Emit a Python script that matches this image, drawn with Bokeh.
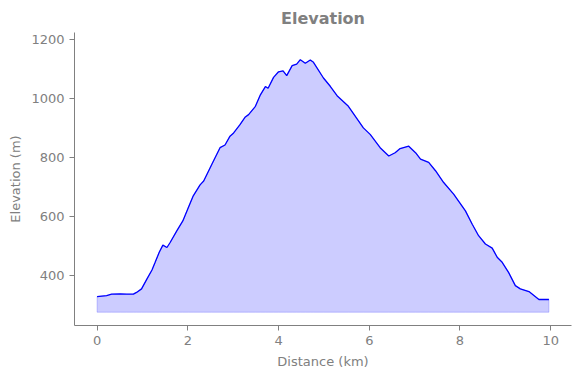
from bokeh.plotting import figure
from bokeh.models import Range1d, FixedTicker
from bokeh.embed import file_html
from bokeh.resources import INLINE

distance_km = [0.00, 0.21, 0.32, 0.51, 0.65, 0.80, 0.87, 0.98, 1.10, 1.21, 1.28, 1.37, 1.45, 1.54,
               1.61, 1.76, 1.89, 2.01, 2.12, 2.27, 2.35, 2.53, 2.71, 2.82, 2.93, 3.01, 3.15,
               3.26, 3.34, 3.49, 3.60, 3.71, 3.77, 3.89, 4.00, 4.10, 4.18, 4.30, 4.40, 4.48,
               4.59, 4.70, 4.77, 4.99, 5.14, 5.29, 5.54, 5.87, 6.02, 6.24, 6.43, 6.57, 6.68,
               6.87, 7.02, 7.13, 7.31, 7.46, 7.64, 7.86, 8.12, 8.27, 8.41, 8.56, 8.71, 8.82,
               8.93, 9.07, 9.22, 9.33, 9.52, 9.74, 9.96]
elevation_m = [329, 332, 337, 338, 337, 337, 343, 355, 389, 419, 445, 479, 503, 495,
               512, 552, 585, 630, 670, 707, 720, 777, 833, 842, 872, 883, 911,
               936, 945, 973, 1012, 1040, 1034, 1071, 1090, 1093, 1077, 1111, 1116, 1131,
               1119, 1130, 1122, 1069, 1041, 1009, 973, 900, 878, 833, 805, 816, 830,
               838, 816, 794, 783, 755, 715, 676, 619, 574, 535, 507, 493, 462,
               445, 411, 366, 355, 346, 319, 319]
fill_base_m = 276
x_ticks = [0, 2, 4, 6, 8, 10]
y_ticks = [400, 600, 800, 1000, 1200]

GRAY = "#808080"
FONT = "DejaVu Sans"

p = figure(width=580, height=378, output_backend="svg", toolbar_location=None,
           x_range=Range1d(-0.498, 10.458), y_range=Range1d(231, 1223),
           min_border_left=74, min_border_right=9, min_border_top=32, min_border_bottom=53)

p.title.text = "Elevation"
p.title.align = "center"
p.title.text_font = FONT
p.title.text_font_size = "16px"
p.title.text_color = GRAY
p.title.text_font_style = "bold"

xs = distance_km + distance_km[::-1]
ys = elevation_m + [fill_base_m] * len(distance_km)
p.patch(xs, ys, fill_color="blue", fill_alpha=0.2, line_color="blue", line_alpha=0.2, line_width=1)
p.line(distance_km, elevation_m, line_color="blue", line_width=1.3)

p.outline_line_color = None
p.grid.grid_line_color = None
p.background_fill_color = "white"

for ax in (p.xaxis[0], p.yaxis[0]):
    ax.axis_line_color = GRAY
    ax.major_tick_line_color = GRAY
    ax.minor_tick_line_color = None
    ax.major_tick_out = 5
    ax.major_tick_in = 0
    ax.major_label_text_color = GRAY
    ax.major_label_text_font = FONT
    ax.major_label_text_font_size = "13px"
    ax.axis_label_text_color = GRAY
    ax.axis_label_text_font = FONT
    ax.axis_label_text_font_size = "13px"
    ax.axis_label_text_font_style = "normal"
    ax.major_label_standoff = 5

p.xaxis.ticker = FixedTicker(ticks=x_ticks)
p.yaxis.ticker = FixedTicker(ticks=y_ticks)
p.xaxis.axis_label = "Distance (km)"
p.yaxis.axis_label = "Elevation (m)"
p.xaxis.axis_label_standoff = 6
p.yaxis.axis_label_standoff = 5

open("out.html", "w").write(file_html(p, INLINE))
